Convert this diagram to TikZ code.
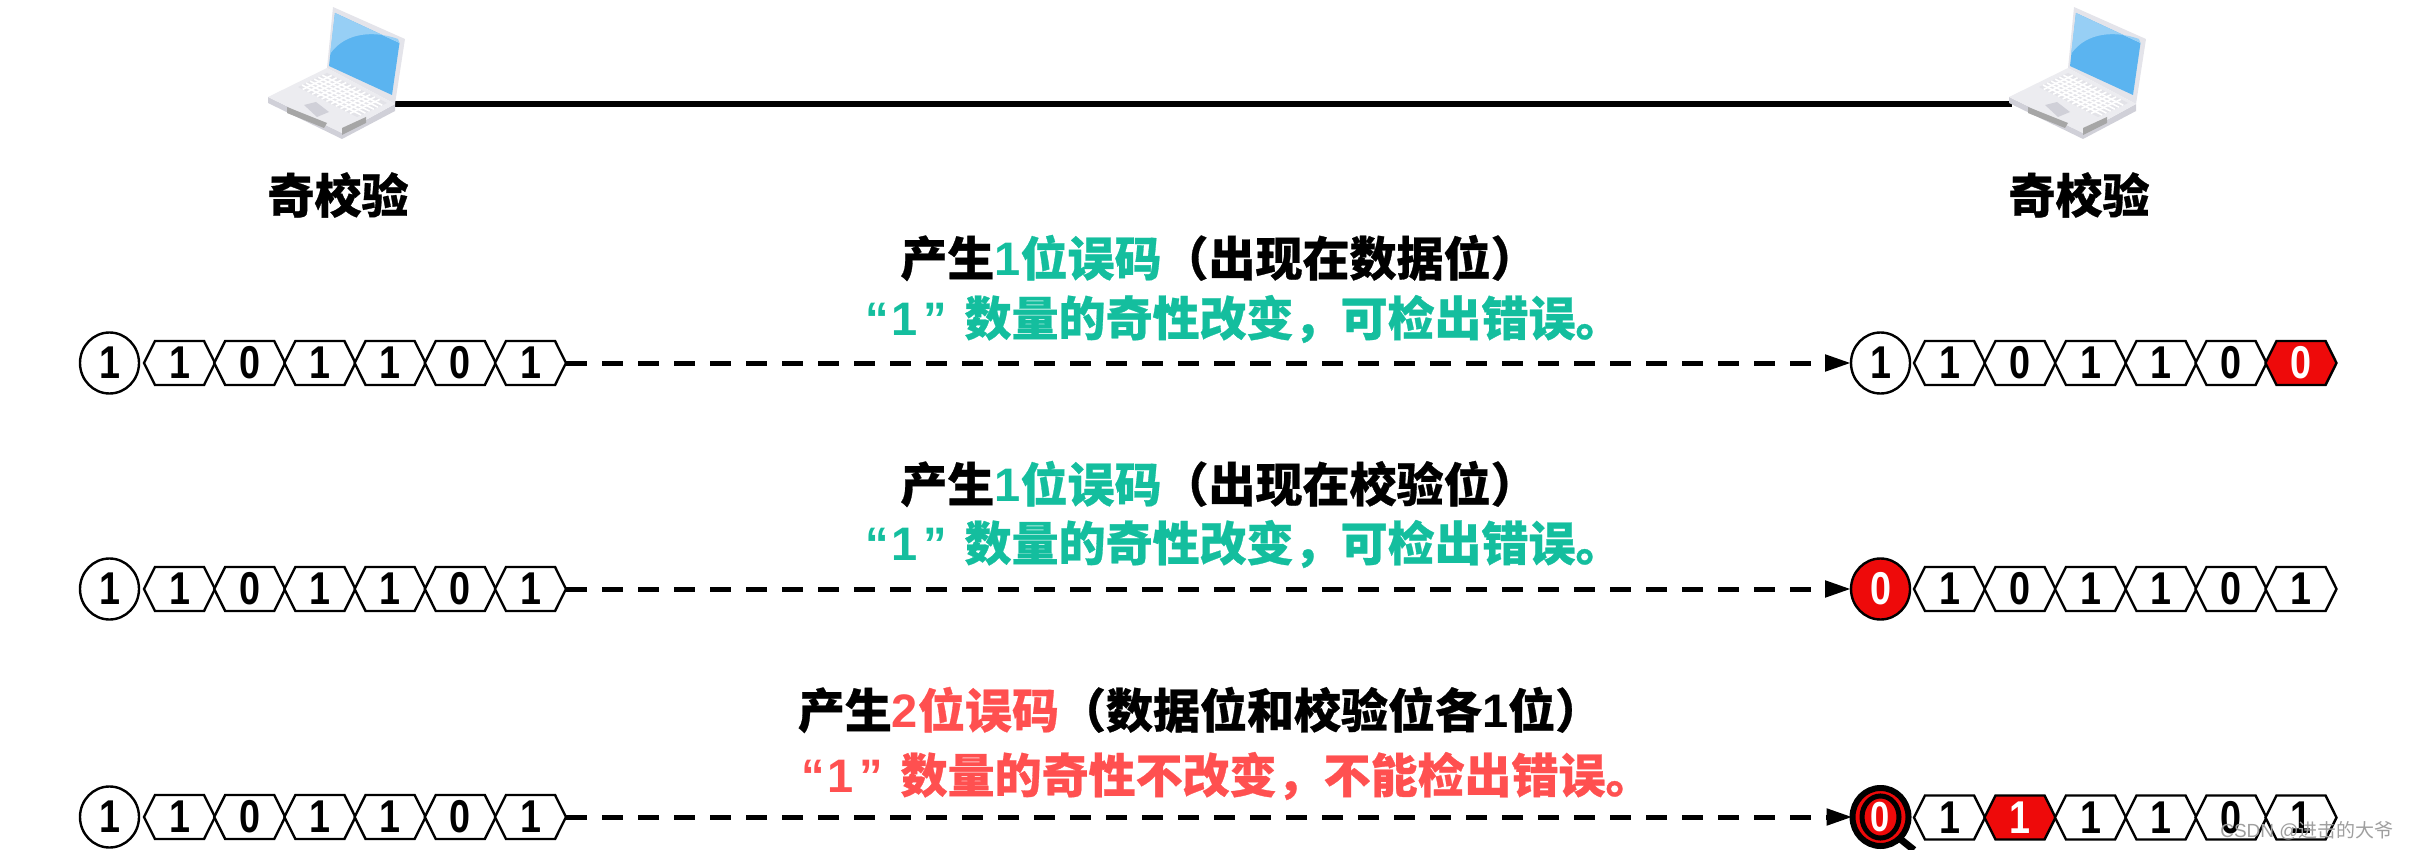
\documentclass[tikz,border=0pt]{standalone}
\usepackage{fontspec}
\usetikzlibrary{shapes.symbols,shapes.geometric,arrows.meta}
\setmainfont{Liberation Sans}
\newfontfamily\cjk[BoldFeatures={FakeBold=0.6}]{Noto Sans CJK SC}
\newfontfamily\dig[FakeStretch=0.82]{Liberation Sans}
\definecolor{teal1}{HTML}{14BE9E}
\definecolor{red1}{HTML}{FF5050}
\definecolor{red2}{HTML}{EE0A0A}
\definecolor{blue1}{HTML}{5BB4F0}
\definecolor{blue2}{HTML}{97CFF5}
\definecolor{lap1}{HTML}{E4E4EA}
\definecolor{lap2}{HTML}{D0D0D8}
\tikzset{
  x=1pt,y=-1pt,
  hexcell/.style={draw=black,line width=2.4pt,fill=white,signal,signal to=east and west,signal pointer angle=127,
    minimum width=71pt,minimum height=44pt,inner sep=0pt,outer sep=0pt,font=\dig\bfseries\fontsize{46}{46}\selectfont},
  hexred/.style={hexcell,fill=red2,text=white},
  endcell/.style={draw=black,line width=2.4pt,fill=white,ellipse,minimum width=59pt,minimum height=61pt,inner sep=0pt,outer sep=0pt,font=\dig\bfseries\fontsize{46}{46}\selectfont},
  endred/.style={endcell,fill=red2,text=white},
  dash link/.style={line width=5pt,dash pattern=on 21pt off 15pt,-{Triangle[length=26pt,width=16pt]}},
  wire/.style={line width=6pt},
  title/.style={font=\bfseries\fontsize{47}{50}\selectfont,inner sep=0pt},
  msg/.style={font=\bfseries\fontsize{47}{50}\selectfont,inner sep=0pt},
  lbl/.style={font=\cjk\bfseries\fontsize{47}{50}\selectfont,inner sep=0pt},
  laptop/.pic={
    \fill[lap1] (-73,-64)--(-1,-32)--(-11,33)--(-79,-3)--cycle;
    \fill[blue1] (-71,-58)--(-6.5,-28)--(-14,24)--(-77,-5)--cycle;
    \fill[blue2] (-71,-58)--(-6.5,-28)--(-8,-32) .. controls (-30,-40) and (-60,-40) .. (-76,-17)--cycle;
    \fill[lap2] (-138,26)--(-64,62)--(-11,33)--(-11,40)--(-64,68)--(-138,32)--cycle;
    \fill[lap1!70!white] (-138,26)--(-79,-3)--(-11,33)--(-64,62)--cycle;
    \fill[lap2!60!white] (-108,16)--(-79,2)--(-19,32)--(-49,46)--cycle;
    \foreach \t in {0.14,0.28,...,0.9}{
      \draw[white,line width=1.6pt] ({-108+29*\t},{16-14*\t}) -- ({-49+30*\t},{46-14*\t});
    }
    \foreach \t in {0.08,0.16,...,0.95}{
      \draw[white,line width=1.6pt] ({-108+59*\t},{16+30*\t}) -- ({-79+60*\t},{2+30*\t});
    }
    \fill[lap2] (-102,34)--(-90,31)--(-77,41)--(-89,46)--cycle;
    \fill[gray!70] (-119,36)--(-79,52)--(-82,57)--(-119,42)--cycle;
    \fill[gray!70] (-64,57)--(-40,46)--(-40,52)--(-64,64)--cycle;
  }
}
\newcommand{\onequote}{“\hspace{3pt}1\hspace{5pt}”\hspace{18pt}}
\begin{document}
\begin{tikzpicture}
\useasboundingbox (0,0) rectangle (2409,850);
\coordinate (wa) at (395,104);
\coordinate (wb) at (2012,104);
\draw[wire] (wa) -- (wb);
\pic at (406,71) {laptop};
\pic at (2147,71) {laptop};
\node[lbl] (pl) at (338,195) {奇校验};
\node[lbl] (pr) at (2079,195) {奇校验};
\node[title] (t1) at (1219,258) {{\cjk 产生}\textcolor{teal1}{1{\cjk 位误码}}{\cjk （出现在数据位）}};
\node[msg,text=teal1] (m1) at (1244,319) {\onequote{\cjk 数量的奇性改变，可检出错误。}};
\node[title] (t2) at (1219,484) {{\cjk 产生}\textcolor{teal1}{1{\cjk 位误码}}{\cjk （出现在校验位）}};
\node[msg,text=teal1] (m2) at (1244,544) {\onequote{\cjk 数量的奇性改变，可检出错误。}};
\node[title] (t3) at (1200,710) {{\cjk 产生}\textcolor{red1}{2{\cjk 位误码}}{\cjk （数据位和校验位各}1{\cjk 位）}};
\node[msg,text=red1] (m3) at (1227,776) {\onequote{\cjk 数量的奇性不改变，不能检出错误。}};
\foreach \r/\yy in {a/363,b/589,c/817}{
  \node[endcell] (\r 0) at (109.5,\yy) {1};
  \foreach \i/\d in {1/1,2/0,3/1,4/1,5/0,6/1}{
    \node[hexcell] (\r \i) at ({179.5+70.2*(\i-1)},\yy) {\d};
  }
}
\node[endcell] (ra0) at (1880.5,363) {1};
\node[hexcell] (ra1) at (1949.5,363) {1};
\node[hexcell] (ra2) at (2020,363) {0};
\node[hexcell] (ra3) at (2090.5,363) {1};
\node[hexcell] (ra4) at (2161,363) {1};
\node[hexcell] (ra5) at (2231,363) {0};
\node[hexred] (ra6) at (2301,363) {0};
\node[endred] (rb0) at (1880.5,589) {0};
\node[hexcell] (rb1) at (1949.5,589) {1};
\node[hexcell] (rb2) at (2020,589) {0};
\node[hexcell] (rb3) at (2090.5,589) {1};
\node[hexcell] (rb4) at (2161,589) {1};
\node[hexcell] (rb5) at (2231,589) {0};
\node[hexcell] (rb6) at (2301,589) {1};
\draw[line width=7pt] (1899,838) -- (1914,850);
\node[endred,line width=6pt,minimum width=56pt,minimum height=58pt] (rc0) at (1880.5,817) {};
\node[draw=black,line width=5pt,ellipse,minimum width=37pt,minimum height=41pt,inner sep=0pt] (rc0i) at (1880.5,817) {\textcolor{white}{\dig\bfseries\fontsize{42}{42}\selectfont 0}};
\node[hexcell] (rc1) at (1949.5,817.5) {1};
\node[hexred] (rc2) at (2020,817.5) {1};
\node[hexcell] (rc3) at (2090.5,817.5) {1};
\node[hexcell] (rc4) at (2161,817.5) {1};
\node[hexcell] (rc5) at (2231,817.5) {0};
\node[hexcell] (rc6) at (2301,817.5) {1};
\draw[dash link] (a6.east) -- (ra0.west);
\draw[dash link] (b6.east) -- (rb0.west);
\draw[dash link] (c6.east) -- (rc0.west);
\node[inner sep=0pt,text=gray!75,font=\fontsize{19}{21}\selectfont] (wm) at (2307,831) {CSDN @{\cjk 进击的大爷}};
\end{tikzpicture}
\end{document}
